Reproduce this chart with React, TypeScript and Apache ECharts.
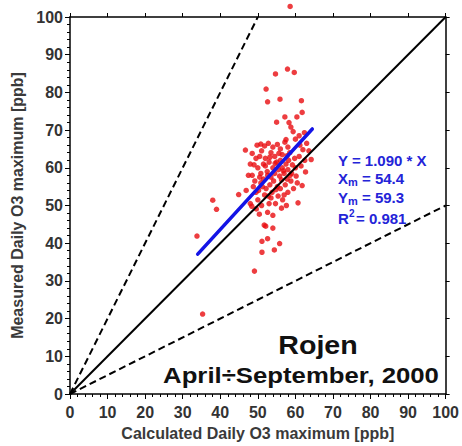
import React, { useEffect, useRef } from "react";
import * as echarts from "echarts";

const xTicks = [0, 10, 20, 30, 40, 50, 60, 70, 80, 90, 100];
const yTicks = [0, 10, 20, 30, 40, 50, 60, 70, 80, 90, 100];

const measuredVsCalculated: number[][] = [
  // upper outliers
  [58.6, 102.8], [54.7, 84.9], [57.9, 86.2], [59.7, 85.3], [52.2, 80.9], [55.9, 78.2],
  [52.6, 77.5], [61.6, 77.8], [57.2, 73.5], [60.4, 73.5], [61.8, 74.7], [55.0, 72.1],
  [58.3, 72.0], [58.8, 70.8], [59.4, 69.6], [62.4, 69.3], [60.0, 67.6], [61.0, 68.5],
  // left / lower outliers
  [33.8, 41.9], [35.3, 21.2], [38.0, 51.4], [39.0, 49.0], [44.9, 52.9], [46.9, 54.0],
  [49.1, 32.6], [51.1, 37.6], [51.1, 40.5], [52.6, 41.2], [51.7, 44.8], [52.1, 44.5],
  [54.0, 44.0], [54.4, 38.2], [55.8, 39.9], [54.0, 47.4], [56.3, 49.3], [54.7, 50.5],
  [60.7, 50.7], [48.4, 49.8], [49.6, 49.1], [50.4, 47.7], [52.6, 48.2], [48.0, 50.5],
  [50.0, 51.5], [51.0, 50.0], [53.5, 52.0],
  // right side of cluster
  [62.7, 58.9], [63.6, 64.5], [64.2, 62.2], [62.5, 62.0], [61.5, 60.5], [60.5, 56.0],
  [61.8, 55.3], [59.5, 54.5], [60.2, 57.8], [62.0, 64.8], [61.2, 66.0], [59.0, 58.5],
  [58.0, 53.5], [57.0, 52.8], [56.0, 54.5], [58.8, 56.5], [60.0, 60.0], [61.0, 63.0],
  [59.8, 62.5], [58.5, 64.0], [63.0, 66.5],
  // top of cluster
  [46.7, 64.7], [48.5, 63.8], [49.8, 66.0], [50.8, 66.3], [51.8, 65.8], [52.8, 66.5],
  [54.0, 65.5], [55.2, 66.2], [56.0, 65.0], [57.2, 66.8], [58.0, 65.5], [53.5, 64.0],
  [51.0, 64.5], [49.5, 62.5], [48.0, 61.0], [47.5, 58.0], [50.5, 63.0], [52.0, 62.5],
  [54.5, 63.0], [56.5, 63.5], [58.2, 62.0], [57.5, 67.5],
  // core
  [48.5, 58.0], [49.2, 56.5], [50.0, 60.0], [50.8, 58.5], [51.5, 57.0], [52.0, 60.5],
  [52.5, 59.0], [53.0, 61.5], [53.5, 57.5], [54.0, 60.0], [54.5, 58.5], [55.0, 61.5],
  [55.5, 59.5], [56.0, 62.0], [56.5, 60.0], [57.0, 58.5], [57.5, 61.0], [58.0, 59.5],
  [54.2, 56.5], [53.2, 55.5], [52.2, 54.5], [51.2, 55.0], [50.2, 54.0], [49.5, 53.5],
  [55.2, 55.0], [56.3, 56.8], [57.3, 55.5], [55.8, 57.8], [54.8, 54.2], [53.8, 53.5],
  [52.8, 52.5], [51.8, 52.8], [50.8, 56.0], [49.0, 60.8], [51.5, 61.0], [53.2, 62.8],
  [55.6, 63.8], [57.8, 63.2], [59.2, 60.8], [58.6, 58.0], [57.8, 57.0], [56.8, 59.2],
  [54.6, 61.2], [52.6, 58.0], [50.5, 57.5], [48.8, 55.0], [55.4, 52.5], [56.6, 51.5],
  [57.6, 50.0], [53.0, 50.5],
];

const regressionLine = [[34, 37.1], [64.5, 70.3]];
const oneToOne = [[0, 0], [100, 100]];
const twoToOne = [[0, 0], [50, 100]];
const halfToOne = [[0, 0], [100, 50]];

const statsLines = ["Y = 1.090 * X", "54.4", "59.3", "0.981"];

export default function App() {
  const ref = useRef<HTMLDivElement>(null);
  useEffect(() => {
    if (!ref.current) return;
    const chart = echarts.init(ref.current, undefined, { renderer: "svg" });
    const ff = '"Liberation Sans", Arial, sans-serif';
    const tickFont = { fontFamily: ff, fontSize: 16, fontWeight: "bold" as const, color: "#333" };
    const nameFont = { fontFamily: ff, fontSize: 16, fontWeight: "bold" as const, color: "#3a3a3a" };
    const blue = "#2424d8";
    const blueText = (text: string, x: number, y: number, size = 15) => ({
      type: "text",
      x,
      y,
      style: {
        text,
        fill: blue,
        font: `bold ${size}px ${ff}`,
        textVerticalAlign: "middle",
      },
      z: 100,
    });
    chart.setOption({
      animation: false,
      backgroundColor: "#fff",
      grid: { left: 70, right: 12, top: 17, bottom: 49 },
      xAxis: [
        {
          type: "value",
          min: xTicks[0],
          max: xTicks[xTicks.length - 1],
          interval: 10,
          name: "Calculated Daily O3 maximum [ppb]",
          nameLocation: "middle",
          nameGap: 31,
          nameTextStyle: nameFont,
          axisLine: { show: true, onZero: false, lineStyle: { color: "#000", width: 1.5 } },
          axisTick: { show: true, length: 5, lineStyle: { color: "#000" } },
          minorTick: { show: true, splitNumber: 5, length: 3, lineStyle: { color: "#000" } },
          axisLabel: { ...tickFont, margin: 10 },
          splitLine: { show: false },
        },
        {
          type: "value",
          position: "top",
          min: 0,
          max: 100,
          interval: 10,
          axisLine: { show: true, onZero: false, lineStyle: { color: "#000", width: 1.5 } },
          axisTick: { show: true, length: 4, lineStyle: { color: "#000" } },
          axisLabel: { show: false },
          splitLine: { show: false },
        },
      ],
      yAxis: [
        {
          type: "value",
          min: yTicks[0],
          max: yTicks[yTicks.length - 1],
          interval: 10,
          name: "Measured Daily O3 maximum [ppb]",
          nameLocation: "middle",
          nameGap: 42,
          nameTextStyle: nameFont,
          axisLine: { show: true, onZero: false, lineStyle: { color: "#000", width: 1.5 } },
          axisTick: { show: true, length: 5, lineStyle: { color: "#000" } },
          minorTick: { show: true, splitNumber: 5, length: 3, lineStyle: { color: "#000" } },
          axisLabel: { ...tickFont, margin: 7 },
          splitLine: { show: false },
        },
        {
          type: "value",
          position: "right",
          min: 0,
          max: 100,
          interval: 10,
          axisLine: { show: true, onZero: false, lineStyle: { color: "#000", width: 1.5 } },
          axisTick: { show: true, length: 4, lineStyle: { color: "#000" } },
          axisLabel: { show: false },
          splitLine: { show: false },
        },
      ],
      series: [
        {
          type: "scatter",
          data: measuredVsCalculated,
          symbol: "circle",
          symbolSize: 5.5,
          clip: false,
          itemStyle: { color: "#e80c10" },
          z: 2,
        },
        {
          type: "line",
          data: oneToOne,
          symbol: "none",
          lineStyle: { color: "#000", width: 2 },
          z: 3,
        },
        {
          type: "line",
          data: twoToOne,
          symbol: "none",
          lineStyle: { color: "#000", width: 2, type: [7, 4] },
          z: 3,
        },
        {
          type: "line",
          data: halfToOne,
          symbol: "none",
          lineStyle: { color: "#000", width: 2, type: [7, 4] },
          z: 3,
        },
        {
          type: "line",
          data: regressionLine,
          symbol: "none",
          lineStyle: { color: "#1414e6", width: 3.5, cap: "round" },
          z: 4,
        },
      ],
      graphic: [
        blueText(statsLines[0], 338, 160),
        blueText("X", 338, 178),
        blueText("m", 348, 182, 11),
        blueText("= " + statsLines[1], 362, 178),
        blueText("Y", 338, 197),
        blueText("m", 348, 201, 11),
        blueText("= " + statsLines[2], 362, 197),
        blueText("R", 338, 218),
        blueText("2", 349, 213, 10),
        blueText("= " + statsLines[3], 356, 218),
        {
          type: "text",
          x: 318,
          y: 345,
          scaleX: 1.1,
          style: {
            text: "Rojen",
            fill: "#111",
            font: `bold 26px ${ff}`,
            textAlign: "center",
            textVerticalAlign: "middle",
          },
          z: 100,
        },
        {
          type: "text",
          x: 301,
          y: 375,
          scaleX: 1.17,
          style: {
            text: "April÷September, 2000",
            fill: "#111",
            font: `bold 22px ${ff}`,
            textAlign: "center",
            textVerticalAlign: "middle",
          },
          z: 100,
        },
      ],
    });
    return () => chart.dispose();
  }, []);
  return <div ref={ref} style={{ position: "absolute", left: 0, top: 0, width: 462, height: 446 }} />;
}
